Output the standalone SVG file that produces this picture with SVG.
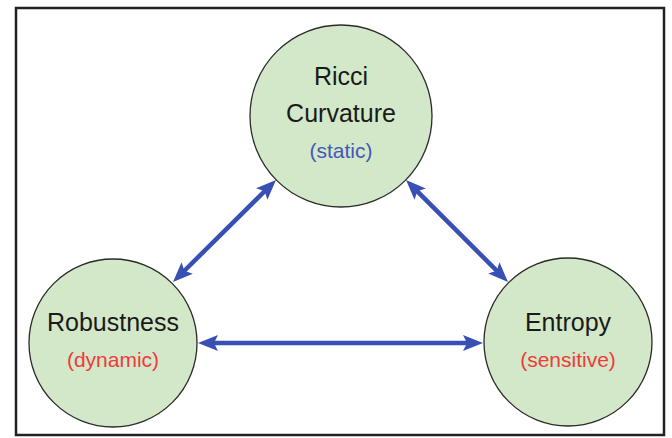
<svg xmlns="http://www.w3.org/2000/svg" width="672" height="438" viewBox="0 0 672 438">
<style>
.node{fill:#d3e8c9;stroke:#2a2a2a;stroke-width:1.3}
.t{font-family:"Liberation Sans",Arial,sans-serif;font-size:25px;fill:#1a1a1a;text-anchor:middle}
.s{font-family:"Liberation Sans",Arial,sans-serif;font-size:21px;text-anchor:middle}
.blue{fill:#4656b8}
.red{fill:#f03a3a}
.conn{stroke:#3a4fb3;stroke-width:4.5;fill:none;marker-start:url(#ah);marker-end:url(#ah)}
</style>
<defs>
<marker id="ah" viewBox="0 0 20 16" refX="10" refY="8" markerWidth="20" markerHeight="16" markerUnits="userSpaceOnUse" orient="auto-start-reverse">
<path d="M0,0 L20,8 L0,16 L4,8 z" fill="#3a4fb3"/>
</marker>
</defs>
<rect x="0" y="0" width="672" height="438" fill="#ffffff"/>
<rect x="16" y="8" width="648" height="427" fill="none" stroke="#222222" stroke-width="2.5"/>
<g id="connectors">
<line class="conn" x1="180.1" y1="275" x2="268.9" y2="187"/>
<line class="conn" x1="413.1" y1="187.1" x2="500.9" y2="274.9"/>
<line class="conn" x1="208" y1="343" x2="473" y2="343"/>
</g>
<g id="ricci">
<circle class="node" cx="341" cy="116" r="91"/>
<text class="t" x="341" y="84.5">Ricci</text>
<text class="t" x="341" y="121.5">Curvature</text>
<text class="s blue" x="341" y="158">(static)</text>
</g>
<g id="robustness">
<circle class="node" cx="113" cy="343" r="84"/>
<text class="t" x="113" y="331">Robustness</text>
<text class="s red" x="113" y="366.5">(dynamic)</text>
</g>
<g id="entropy">
<circle class="node" cx="568" cy="342" r="84"/>
<text class="t" x="568" y="331">Entropy</text>
<text class="s red" x="568" y="366.5">(sensitive)</text>
</g>
</svg>
